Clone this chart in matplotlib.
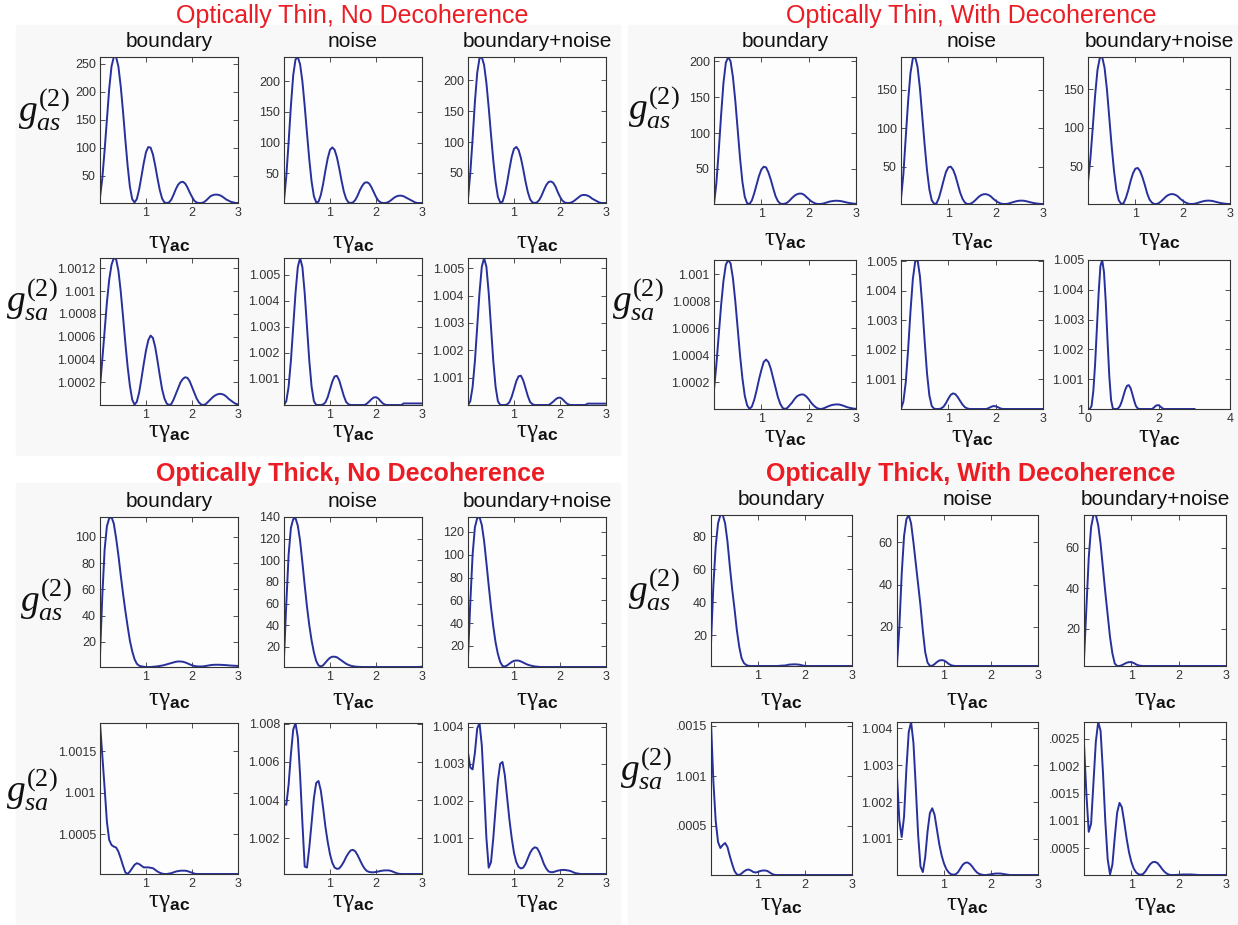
import matplotlib.pyplot as plt
from matplotlib.patches import Rectangle

plt.rcParams['font.family'] = ['Liberation Sans', 'DejaVu Sans']
plt.rcParams['mathtext.fontset'] = 'custom'
plt.rcParams['mathtext.rm'] = 'Liberation Serif'
plt.rcParams['mathtext.it'] = 'Liberation Serif:italic'
plt.rcParams['mathtext.bf'] = 'Liberation Sans:bold'

# tau*gamma_ac sample points
TAU = [0.0, 0.05, 0.1, 0.15, 0.2, 0.25, 0.3, 0.35, 0.4, 0.45,
       0.5, 0.55, 0.6, 0.65, 0.7, 0.75, 0.8, 0.85, 0.9, 0.95,
       1.0, 1.05, 1.1, 1.15, 1.2, 1.25, 1.3, 1.35, 1.4, 1.45,
       1.5, 1.55, 1.6, 1.65, 1.7, 1.75, 1.8, 1.85, 1.9, 1.95,
       2.0, 2.05, 2.1, 2.15, 2.2, 2.25, 2.3, 2.35, 2.4, 2.45,
       2.5, 2.55, 2.6, 2.65, 2.7, 2.75, 2.8, 2.85, 2.9, 2.95, 3.0]

# ---- optically thin, no decoherence: g_as ----
THIN_NODEC_AS_B = [11, 45, 95, 150, 205, 245, 262, 262, 245, 210,
                   165, 115, 68, 30, 8, 2, 8, 25, 48, 72,
                   92, 101, 100, 88, 68, 45, 24, 9, 2, 1,
                   2, 7, 16, 26, 34, 38, 39, 36, 29, 20,
                   12, 5, 2, 1, 1, 2, 5, 9, 13, 15,
                   16, 16, 15, 13, 10, 7, 5, 3, 2, 1, 1]
THIN_NODEC_AS_N = [5, 45, 100, 160, 210, 236, 240, 228, 200, 160,
                   115, 72, 36, 12, 2, 3, 14, 32, 54, 74,
                   88, 92, 88, 76, 58, 38, 20, 8, 2, 1,
                   2, 6, 13, 22, 29, 34, 35, 33, 27, 19,
                   11, 5, 2, 1, 1, 2, 4, 7, 10, 12,
                   13, 13, 12, 10, 8, 6, 4, 2, 1, 1, 1]
THIN_NODEC_AS_BN = [8, 50, 105, 165, 212, 236, 238, 225, 196, 156,
                    112, 70, 35, 11, 2, 3, 15, 34, 56, 76,
                    89, 92, 87, 74, 56, 36, 19, 7, 2, 1,
                    2, 6, 13, 22, 30, 35, 36, 34, 28, 19,
                    11, 5, 2, 1, 1, 2, 4, 7, 10, 13,
                    14, 14, 13, 11, 8, 6, 4, 2, 1, 1, 1]
# g_sa given as (g - 1) in units of SA scale
THIN_NODEC_SA_B = [1.6, 4.0, 6.5, 9.0, 11.0, 12.3, 12.9, 12.8, 11.8, 10.0,
                   7.8, 5.5, 3.4, 1.7, 0.5, 0.05, 0.3, 1.1, 2.3, 3.6,
                   4.8, 5.7, 6.1, 5.9, 5.1, 3.9, 2.6, 1.4, 0.6, 0.15,
                   0.02, 0.1, 0.5, 1.0, 1.5, 2.0, 2.3, 2.45, 2.4, 2.1,
                   1.6, 1.1, 0.6, 0.25, 0.06, 0.02, 0.1, 0.3, 0.5, 0.7,
                   0.85, 0.95, 1.0, 0.98, 0.9, 0.75, 0.55, 0.4, 0.25, 0.12, 0.08]
THIN_NODEC_SA_N = [0.0, 0.15, 0.7, 1.7, 3.0, 4.3, 5.3, 5.65, 5.3, 4.3,
                   3.0, 1.7, 0.7, 0.15, 0.0, 0.0, 0.0, 0.02, 0.1, 0.3,
                   0.6, 0.9, 1.1, 1.12, 0.95, 0.65, 0.35, 0.12, 0.03, 0.0,
                   0.0, 0.0, 0.0, 0.0, 0.0, 0.0, 0.05, 0.13, 0.22, 0.29,
                   0.3, 0.25, 0.15, 0.06, 0.01, 0.0, 0.0, 0.0, 0.0, 0.0,
                   0.0, 0.0, 0.06, 0.06, 0.06, 0.06, 0.06, 0.06, 0.06, 0.06, 0.06]
THIN_NODEC_SA_BN = [0.0, 0.14, 0.66, 1.6, 2.85, 4.1, 5.05, 5.37, 5.05, 4.1,
                    2.85, 1.6, 0.66, 0.14, 0.0, 0.0, 0.0, 0.02, 0.1, 0.3,
                    0.58, 0.87, 1.05, 1.07, 0.9, 0.62, 0.33, 0.11, 0.03, 0.0,
                    0.0, 0.0, 0.0, 0.0, 0.0, 0.0, 0.05, 0.12, 0.2, 0.26,
                    0.27, 0.22, 0.13, 0.05, 0.01, 0.0, 0.0, 0.0, 0.0, 0.0,
                    0.0, 0.0, 0.05, 0.05, 0.05, 0.05, 0.05, 0.05, 0.05, 0.05, 0.05]

# ---- optically thin, with decoherence ----
THIN_DEC_AS_B = [1, 30, 75, 125, 170, 198, 206, 200, 178, 145,
                 105, 65, 32, 11, 2, 1, 6, 16, 28, 40,
                 49, 53, 52, 45, 35, 23, 12, 5, 1.5, 1,
                 1.5, 3, 6, 9.5, 12.5, 14.5, 15.5, 15.5, 14, 11,
                 8, 5, 3, 1.5, 1, 1, 1.5, 2.5, 3.5, 4.5,
                 5, 5.5, 5.5, 5.3, 4.8, 4, 3.2, 2.5, 2, 1.5, 1.3]
THIN_DEC_AS_N = [8, 40, 88, 135, 172, 191, 193, 180, 152, 115,
                 78, 45, 20, 6, 1.5, 2, 9, 20, 32, 43,
                 49, 50, 46, 38, 27, 16, 8, 3, 1.2, 1.2,
                 2.5, 5, 8, 11, 13, 14, 14, 13, 11, 8,
                 5.5, 3.5, 2, 1.3, 1.2, 1.5, 2.3, 3.3, 4.2, 5,
                 5.5, 5.6, 5.4, 4.8, 4, 3.2, 2.5, 2, 1.6, 1.3, 1.2]
THIN_DEC_AS_BN = [30, 60, 100, 142, 175, 191, 192, 178, 150, 113,
                  76, 44, 19, 6, 1.5, 2, 9, 19, 31, 41,
                  47, 48, 44, 36, 26, 15, 7, 3, 1.2, 1.2,
                  2.5, 5, 8, 11, 13, 14, 14, 13, 11, 8,
                  5.5, 3.5, 2, 1.3, 1.2, 1.5, 2.3, 3.3, 4.2, 5,
                  5.5, 5.6, 5.4, 4.8, 4, 3.2, 2.5, 2, 1.6, 1.3, 1.2]
THIN_DEC_SA_B = [1.46, 3.3, 5.5, 7.7, 9.5, 10.7, 11.05, 10.8, 9.7, 8.0,
                 6.0, 4.0, 2.3, 1.0, 0.3, 0.02, 0.2, 0.7, 1.4, 2.2,
                 2.9, 3.5, 3.68, 3.5, 3.0, 2.3, 1.6, 0.9, 0.4, 0.1,
                 0.02, 0.1, 0.3, 0.5, 0.75, 0.95, 1.05, 1.1, 1.08, 0.95,
                 0.75, 0.5, 0.3, 0.15, 0.05, 0.02, 0.05, 0.12, 0.2, 0.27,
                 0.32, 0.35, 0.36, 0.35, 0.3, 0.24, 0.17, 0.12, 0.08, 0.05, 0.03]
THIN_DEC_SA_N = [0.0, 0.25, 0.9, 2.0, 3.3, 4.4, 5.0, 5.05, 4.5, 3.5,
                 2.3, 1.2, 0.45, 0.1, 0.01, 0.0, 0.0, 0.02, 0.08, 0.2,
                 0.35, 0.48, 0.53, 0.5, 0.4, 0.27, 0.15, 0.06, 0.02, 0.0,
                 0.0, 0.0, 0.0, 0.0, 0.0, 0.0, 0.0, 0.03, 0.07, 0.1,
                 0.09, 0.06, 0.02, 0.0, 0.0, 0.0, 0.0, 0.0, 0.0, 0.0,
                 0.0, 0.0, 0.0, 0.0, 0.0, 0.0, 0.0, 0.0, 0.0, 0.0, 0.0]
THIN_DEC_SA_BN = [0.0, 0.0, 0.1, 0.6, 1.5, 2.7, 3.9, 4.8, 5.0, 4.6,
                  3.6, 2.3, 1.1, 0.3, 0.02, 0.0, 0.0, 0.02, 0.1, 0.25,
                  0.45, 0.65, 0.78, 0.8, 0.7, 0.5, 0.28, 0.1, 0.02, 0.0,
                  0.0, 0.0, 0.0, 0.0, 0.0, 0.0, 0.0, 0.04, 0.1, 0.13,
                  0.12, 0.07, 0.02, 0.0, 0.0, 0.0, 0.0, 0.0, 0.0, 0.0,
                  0.0, 0.0, 0.0, 0.0, 0.0, 0.0, 0.0, 0.0, 0.0, 0.0, 0.0]

# ---- optically thick, no decoherence ----
THICK_NODEC_AS_B = [10, 55, 90, 108, 114, 115, 110, 99, 86, 71,
                    57, 44, 32, 21, 13, 7, 3.5, 2, 1.5, 1.2,
                    1, 1, 1, 1.2, 1.3, 1.5, 1.8, 2.1, 2.5, 3,
                    3.5, 4, 4.5, 5, 5.2, 5.2, 5, 4.5, 3.8, 3,
                    2.3, 1.8, 1.5, 1.4, 1.4, 1.5, 1.8, 2.1, 2.4, 2.6,
                    2.7, 2.7, 2.7, 2.6, 2.5, 2.4, 2.2, 2.1, 2.0, 1.9, 1.8]
THICK_NODEC_AS_N = [10, 60, 105, 130, 138, 139, 132, 118, 98, 77,
                    57, 40, 26, 15, 7, 3, 2, 3, 5.5, 8,
                    10, 11, 11, 10.5, 9, 7.5, 6, 4.5, 3.5, 2.7,
                    2.2, 1.9, 1.7, 1.6, 1.5, 1.5, 1.5, 1.5, 1.5, 1.5,
                    1.5, 1.5, 1.5, 1.5, 1.5, 1.5, 1.5, 1.5, 1.5, 1.5,
                    1.5, 1.5, 1.5, 1.5, 1.5, 1.5, 1.5, 1.5, 1.5, 1.6, 1.8]
THICK_NODEC_AS_BN = [10, 58, 100, 124, 132, 133, 126, 112, 93, 73,
                     54, 37, 23, 13, 6, 2.5, 2, 3, 4.5, 6,
                     7, 7.3, 7.2, 6.5, 5.5, 4.5, 3.6, 3, 2.5, 2.1,
                     1.9, 1.7, 1.6, 1.6, 1.6, 1.6, 1.6, 1.6, 1.6, 1.6,
                     1.6, 1.6, 1.6, 1.6, 1.6, 1.6, 1.6, 1.6, 1.6, 1.6,
                     1.6, 1.6, 1.6, 1.6, 1.6, 1.6, 1.6, 1.6, 1.6, 1.6, 1.6]
THICK_NODEC_SA_B = [18.4, 14.5, 10.6, 6.5, 4.3, 3.7, 3.5, 3.4, 2.9, 2.1,
                    1.2, 0.4, 0.2, 0.5, 0.9, 1.3, 1.5, 1.4, 1.2, 1.0,
                    1.0, 1.0, 0.95, 0.9, 0.7, 0.5, 0.35, 0.25, 0.2, 0.2,
                    0.25, 0.3, 0.4, 0.5, 0.55, 0.6, 0.6, 0.6, 0.55, 0.45,
                    0.35, 0.25, 0.2, 0.2, 0.2, 0.2, 0.2, 0.2, 0.2, 0.2,
                    0.2, 0.2, 0.2, 0.2, 0.2, 0.2, 0.2, 0.2, 0.2, 0.2, 0.2]
THICK_NODEC_SA_N = [3.8, 3.75, 4.8, 6.4, 7.7, 8.05, 7.3, 5.3, 2.8, 0.5,
                    0.45, 1.5, 2.8, 4.1, 4.9, 5.0, 4.5, 3.6, 2.6, 1.8,
                    1.15, 0.7, 0.45, 0.38, 0.4, 0.55, 0.75, 1.0, 1.2, 1.35,
                    1.38, 1.3, 1.1, 0.85, 0.6, 0.4, 0.27, 0.22, 0.2, 0.2,
                    0.22, 0.24, 0.27, 0.29, 0.3, 0.3, 0.29, 0.25, 0.2, 0.15,
                    0.12, 0.11, 0.11, 0.11, 0.11, 0.11, 0.11, 0.11, 0.11, 0.11, 0.11]
THICK_NODEC_SA_BN = [3.3, 2.9, 2.85, 3.3, 3.95, 4.1, 3.5, 2.3, 1.0, 0.2,
                     0.35, 1.0, 1.8, 2.55, 3.0, 3.05, 2.7, 2.1, 1.5, 1.0,
                     0.6, 0.35, 0.22, 0.18, 0.2, 0.3, 0.45, 0.6, 0.7, 0.75,
                     0.73, 0.62, 0.47, 0.3, 0.18, 0.1, 0.08, 0.08, 0.1, 0.12,
                     0.13, 0.14, 0.14, 0.13, 0.12, 0.1, 0.07, 0.05, 0.04, 0.03,
                     0.03, 0.03, 0.03, 0.03, 0.03, 0.03, 0.03, 0.03, 0.03, 0.03, 0.03]

# ---- optically thick, with decoherence ----
THICK_DEC_AS_B = [15, 50, 74, 88, 93, 93, 88, 77, 62, 48,
                  36, 23, 13, 6, 3, 1.8, 1.3, 1.2, 1.2, 1.2,
                  1.2, 1.2, 1.2, 1.2, 1.2, 1.2, 1.2, 1.2, 1.2, 1.3,
                  1.4, 1.5, 1.6, 2.0, 2.1, 2.2, 2.2, 2.1, 1.9, 1.5,
                  1.3, 1.2, 1.2, 1.2, 1.2, 1.2, 1.2, 1.2, 1.2, 1.2,
                  1.2, 1.2, 1.2, 1.2, 1.2, 1.2, 1.2, 1.2, 1.2, 1.2, 1.2]
THICK_DEC_AS_N = [2, 20, 45, 63, 71, 73, 69, 60, 50, 40,
                  30, 18, 8, 3, 1.5, 1.5, 2.3, 3.3, 4, 4.2,
                  4, 3.3, 2.4, 1.8, 1.5, 1.4, 1.4, 1.4, 1.4, 1.4,
                  1.4, 1.4, 1.4, 1.4, 1.4, 1.4, 1.4, 1.4, 1.4, 1.4,
                  1.4, 1.4, 1.4, 1.4, 1.4, 1.4, 1.4, 1.4, 1.4, 1.4,
                  1.4, 1.4, 1.4, 1.4, 1.4, 1.4, 1.4, 1.4, 1.4, 1.4, 1.4]
THICK_DEC_AS_BN = [5, 30, 55, 70, 76, 76, 71, 62, 50, 38,
                   27, 16, 8, 3, 1.8, 1.8, 2.2, 2.8, 3.4, 3.7,
                   3.7, 3.3, 2.6, 2.1, 1.9, 1.8, 1.8, 1.8, 1.8, 1.8,
                   1.8, 1.8, 1.8, 1.8, 1.8, 1.8, 1.8, 1.8, 1.8, 1.8,
                   1.8, 1.8, 1.8, 1.8, 1.8, 1.8, 1.8, 1.8, 1.8, 1.8,
                   1.8, 1.8, 1.8, 1.8, 1.8, 1.8, 1.8, 1.8, 1.8, 1.8, 1.8]
THICK_DEC_SA_B = [15.4, 9.5, 5.5, 3.4, 2.8, 3.1, 3.3, 2.9, 2.0, 1.2,
                  0.5, 0.15, 0.1, 0.25, 0.45, 0.6, 0.65, 0.55, 0.4, 0.35,
                  0.4, 0.5, 0.55, 0.55, 0.5, 0.35, 0.2, 0.12, 0.1, 0.1,
                  0.1, 0.1, 0.1, 0.1, 0.1, 0.1, 0.1, 0.1, 0.1, 0.1,
                  0.1, 0.1, 0.1, 0.1, 0.1, 0.1, 0.1, 0.1, 0.1, 0.1,
                  0.1, 0.1, 0.1, 0.1, 0.1, 0.1, 0.1, 0.1, 0.1, 0.1, 0.1]
THICK_DEC_SA_N = [2.7, 1.5, 1.05, 1.6, 2.9, 3.9, 4.17, 3.6, 2.4, 1.1,
                  0.25, 0.1, 0.5, 1.2, 1.7, 1.83, 1.65, 1.25, 0.85, 0.55,
                  0.33, 0.18, 0.09, 0.04, 0.03, 0.04, 0.1, 0.2, 0.3, 0.35,
                  0.36, 0.32, 0.25, 0.16, 0.09, 0.05, 0.03, 0.02, 0.02, 0.03,
                  0.04, 0.05, 0.06, 0.06, 0.06, 0.05, 0.04, 0.03, 0.02, 0.02,
                  0.02, 0.02, 0.02, 0.02, 0.02, 0.02, 0.02, 0.02, 0.02, 0.02, 0.02]
THICK_DEC_SA_BN = [24.1, 15, 8.0, 9.5, 17, 24.5, 28.1, 26.5, 19, 10,
                   3, 0.2, 2, 7, 11.5, 13.3, 12.5, 9.8, 6.8, 4.3,
                   2.5, 1.3, 0.6, 0.25, 0.15, 0.3, 0.8, 1.5, 2.1, 2.45,
                   2.5, 2.3, 1.8, 1.2, 0.7, 0.35, 0.15, 0.1, 0.1, 0.12,
                   0.15, 0.18, 0.2, 0.2, 0.2, 0.2, 0.18, 0.15, 0.12, 0.1,
                   0.1, 0.1, 0.1, 0.1, 0.1, 0.1, 0.1, 0.1, 0.1, 0.1, 0.1]

COLUMN_TITLES = ['boundary', 'noise', 'boundary+noise']
QUAD_TITLES = ['Optically Thin, No Decoherence', 'Optically Thin, With Decoherence',
               'Optically Thick, No Decoherence', 'Optically Thick, With Decoherence']

AS_DATA = [[THIN_NODEC_AS_B, THIN_NODEC_AS_N, THIN_NODEC_AS_BN],
           [THIN_DEC_AS_B, THIN_DEC_AS_N, THIN_DEC_AS_BN],
           [THICK_NODEC_AS_B, THICK_NODEC_AS_N, THICK_NODEC_AS_BN],
           [THICK_DEC_AS_B, THICK_DEC_AS_N, THICK_DEC_AS_BN]]
SA_DATA = [[THIN_NODEC_SA_B, THIN_NODEC_SA_N, THIN_NODEC_SA_BN],
           [THIN_DEC_SA_B, THIN_DEC_SA_N, THIN_DEC_SA_BN],
           [THICK_NODEC_SA_B, THICK_NODEC_SA_N, THICK_NODEC_SA_BN],
           [THICK_DEC_SA_B, THICK_DEC_SA_N, THICK_DEC_SA_BN]]
SA_SCALE = [[1e-4, 1e-3, 1e-3], [1e-4, 1e-3, 1e-3],
            [1e-4, 1e-3, 1e-3], [1e-4, 1e-3, 1e-4]]

AS_TICKS = [[[50, 100, 150, 200, 250], [50, 100, 150, 200], [50, 100, 150, 200]],
            [[50, 100, 150, 200], [50, 100, 150], [50, 100, 150]],
            [[20, 40, 60, 80, 100], [20, 40, 60, 80, 100, 120, 140], [20, 40, 60, 80, 100, 120]],
            [[20, 40, 60, 80], [20, 40, 60], [20, 40, 60]]]
SA_TICKS = [[[1.0002, 1.0004, 1.0006, 1.0008, 1.001, 1.0012],
             [1.001, 1.002, 1.003, 1.004, 1.005], [1.001, 1.002, 1.003, 1.004, 1.005]],
            [[1.0002, 1.0004, 1.0006, 1.0008, 1.001],
             [1.001, 1.002, 1.003, 1.004, 1.005], [1.0, 1.001, 1.002, 1.003, 1.004, 1.005]],
            [[1.0005, 1.001, 1.0015], [1.002, 1.004, 1.006, 1.008], [1.001, 1.002, 1.003, 1.004]],
            [[1.0005, 1.001, 1.0015], [1.001, 1.002, 1.003, 1.004],
             [1.0005, 1.001, 1.0015, 1.002, 1.0025]]]
# labels that are clipped in the original figure
SA_LABELS_Q4 = [['.0005', '1.001', '.0015'], None, ['.0005', '1.001', '.0015', '1.002', '.0025']]

W, H = 1238, 925
fig = plt.figure(figsize=(W / 100, H / 100), dpi=100)
fig.patch.set_facecolor('white')

# layout in pixels: column extents, row extents, y-label anchors, x-label offsets
LAYOUT = [
    dict(cols=[(100, 238), (284, 422), (468, 606)], rows=[(57, 203), (258, 405)],
         ylab=[(18, 122), (6, 312)], xgap=[40, 27], title=(352, 23), bg=(16, 25, 620, 455)),
    dict(cols=[(714, 856), (901, 1043), (1088, 1230)], rows=[(57, 204), (260, 409)],
         ylab=[(628, 120), (612, 312)], xgap=[36, 28], title=(971, 23), bg=(628, 25, 1238, 455)),
    dict(cols=[(100, 238), (284, 422), (468, 606)], rows=[(517, 667), (723, 874)],
         ylab=[(20, 612), (6, 802)], xgap=[33, 28], title=(351, 481), bg=(16, 483, 620, 925)),
    dict(cols=[(711, 852), (897, 1038), (1084, 1226)], rows=[(515, 666), (722, 875)],
         ylab=[(628, 602), (620, 781)], xgap=[34, 30], title=(971, 481), bg=(628, 455, 1238, 925)),
]

LINE = '#27309b'
XLABEL = r'$\mathrm{\tau\gamma}_{\mathbf{ac}}$'

for q, lay in enumerate(LAYOUT):
    x0, y0, x1, y1 = lay['bg']
    fig.patches.append(Rectangle((x0 / W, 1 - y1 / H), (x1 - x0) / W, (y1 - y0) / H,
                                 transform=fig.transFigure, color='#f8f8f8', zorder=-10))
    tx, ty = lay['title']
    fig.text(tx / W, 1 - ty / H, QUAD_TITLES[q], color='#ec1c24', fontsize=18,
             fontweight='bold' if q >= 2 else 'normal', ha='center', va='baseline')

    for r in range(2):
        top, bot = lay['rows'][r]
        lx, ly = lay['ylab'][r]
        ylab = r'$g_{as}^{(2)}$' if r == 0 else r'$g_{sa}^{(2)}$'
        fig.text(lx / W, 1 - ly / H, ylab, fontsize=27, ha='left', va='baseline',
                 color='#111111', zorder=5)
        for c in range(3):
            left, right = lay['cols'][c]
            ax = fig.add_axes([left / W, 1 - bot / H, (right - left) / W, (bot - top) / H])
            ax.set_facecolor('#fdfdfd')
            if r == 0:
                y = AS_DATA[q][c]
                ticks = AS_TICKS[q][c]
                labels = [str(t) for t in ticks]
            else:
                s = SA_SCALE[q][c]
                y = [1 + s * v for v in SA_DATA[q][c]]
                ticks = SA_TICKS[q][c]
                labels = [f'{t:g}' for t in ticks]
                if q == 3 and SA_LABELS_Q4[c] is not None:
                    labels = SA_LABELS_Q4[c]
            ax.plot(TAU, y, color=LINE, lw=1.4)
            ax.set_ylim(min(y), max(y))
            ax.set_yticks(ticks)
            ax.set_yticklabels(labels)
            if q == 1 and r == 1 and c == 2:
                ax.set_xlim(0, 4)
                ax.set_xticks([0, 2, 4])
            else:
                ax.set_xlim(0, 3)
                ax.set_xticks([1, 2, 3])
            ax.tick_params(direction='in', length=3.5, width=0.6, top=True, right=True,
                           labelsize=9, labelcolor='#333333', color='#333333', pad=3)
            for sp in ax.spines.values():
                sp.set_color('#333333')
                sp.set_linewidth(0.8)
            ax.set_xlabel(XLABEL, fontsize=18, color='#111111')
            ax.xaxis.set_label_coords(0.5, -lay['xgap'][r] / (bot - top))
            ax.xaxis.label.set_va('center')
            if r == 0:
                ax.set_title(COLUMN_TITLES[c], fontsize=15, pad=7, color='#111111')

fig.savefig('out.png', dpi=100)
